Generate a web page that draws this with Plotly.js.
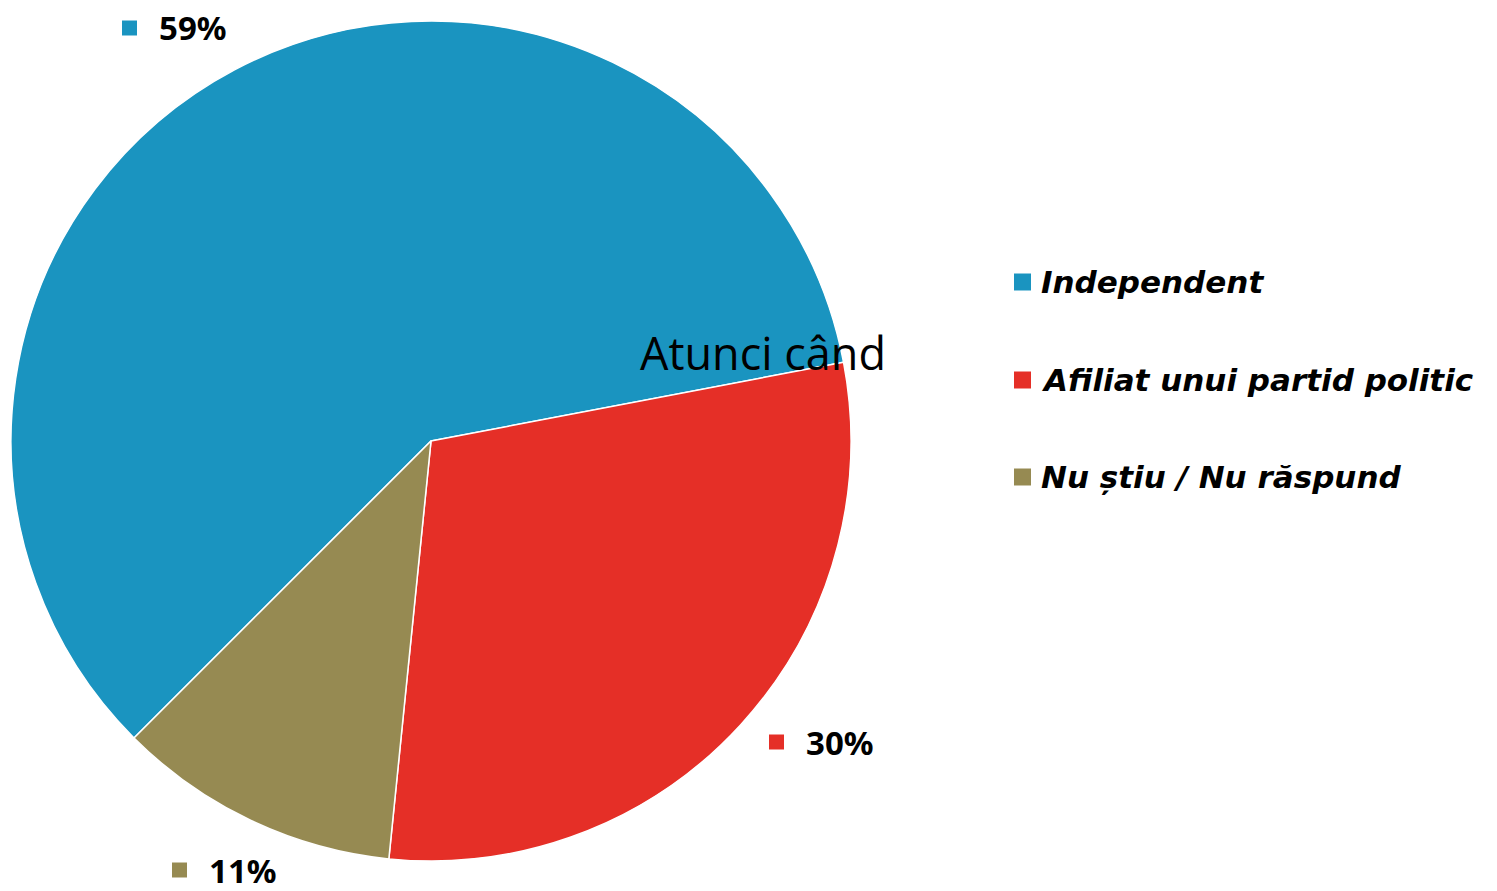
<!DOCTYPE html>
<html>
<head>
<meta charset="utf-8">
<script src="https://cdn.plot.ly/plotly-3.0.1.min.js"></script>
<style>html,body{margin:0;padding:0;background:#fff;}#chart{width:1497px;height:891px;}</style>
</head>
<body>
<div id="chart"></div>
<script>
const categories = ["Independent", "Afiliat unui partid politic", "Nu știu / Nu răspund"];
const values = [59.5, 29.6, 10.9];
const colors = ["#1a94c0", "#e52f27", "#968a52"];
const pctLabels = ["59%", "30%", "11%"];
const titleText = "Atunci când";

const W = 1497, H = 891;
const px = x => x / W;
const py = y => 1 - y / H;

// label placements (pixel positions of square left edge / centre)
const labelPos = [[122, 28], [769, 742], [172, 870]];
const legendPos = [[1014, 282], [1014, 380], [1014, 477]];

const shapes = [];
const annotations = [];
const sqG = 17;
categories.forEach((c, i) => {
  const [lx, ly] = labelPos[i];
  shapes.push({type: "rect", xref: "paper", yref: "paper",
    x0: px(lx), x1: px(lx + 15), y0: py(ly + 7.5), y1: py(ly - 7.5),
    fillcolor: colors[i], line: {width: 0}});
  annotations.push({xref: "paper", yref: "paper", x: px(lx + 35), y: py(ly),
    xanchor: "left", yanchor: "middle", showarrow: false,
    text: "<b>" + pctLabels[i] + "</b>",
    font: {family: "Noto Sans", size: 33, color: "#000"}});
  const [gx, gy] = legendPos[i];
  shapes.push({type: "rect", xref: "paper", yref: "paper",
    x0: px(gx), x1: px(gx + sqG), y0: py(gy + 8.5), y1: py(gy - 8.5),
    fillcolor: colors[i], line: {width: 0}});
  annotations.push({xref: "paper", yref: "paper", x: px(gx + 25), y: py(gy),
    xanchor: "left", yanchor: "middle", showarrow: false,
    text: "<b><i>" + c + "</i></b>",
    font: {family: "DejaVu Sans", size: 31, color: "#000"}});
});
annotations.push({xref: "paper", yref: "paper", x: px(638), y: py(352),
  xanchor: "left", yanchor: "middle", showarrow: false, text: titleText,
  font: {family: "Open Sans", size: 45, color: "#000"}});

const cx = 431, cy = 441, r = 420;
const data = [{
  type: "pie", labels: categories, values: values,
  marker: {colors: colors, line: {color: "#fff", width: 1.5}},
  sort: false, direction: "clockwise", rotation: 225,
  textinfo: "none", hoverinfo: "label+percent", showlegend: false,
  domain: {x: [px(cx - r), px(cx + r)], y: [py(cy + r), py(cy - r)]}
}];
const layout = {
  width: W, height: H, margin: {l: 0, r: 0, t: 0, b: 0},
  paper_bgcolor: "#fff", plot_bgcolor: "#fff",
  showlegend: false, shapes: shapes, annotations: annotations
};
Plotly.newPlot("chart", data, layout, {displayModeBar: false, staticPlot: true});
</script>
</body>
</html>
